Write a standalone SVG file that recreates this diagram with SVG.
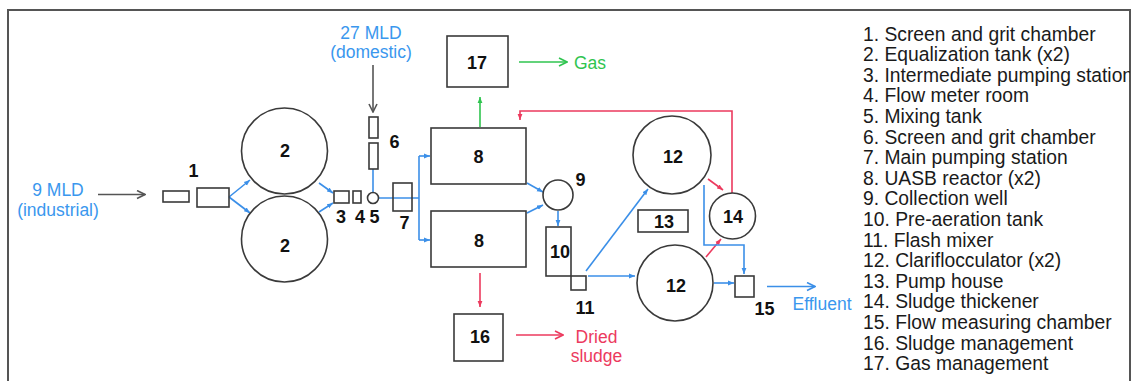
<svg xmlns="http://www.w3.org/2000/svg" width="1135" height="381" viewBox="0 0 1135 381">
<style>
.n{fill:none;stroke:#3a3a3a;stroke-width:1.6}
.lb{font-family:"Liberation Sans",Arial,sans-serif;font-weight:bold;font-size:18px;fill:#111;text-anchor:middle}
.bt{font-family:"Liberation Sans",Arial,sans-serif;font-size:17.5px;fill:#3a97ee;text-anchor:middle}
.gt{font-family:"Liberation Sans",Arial,sans-serif;font-size:17.5px;fill:#2fc44f}
.rt{font-family:"Liberation Sans",Arial,sans-serif;font-size:17.5px;fill:#ec3a5e;text-anchor:middle}
.lg{font-family:"Liberation Sans",Arial,sans-serif;font-size:19.3px;fill:#1a1a1a}
.cb{fill:none;stroke:#3b8fe8;stroke-width:1.6}
.cr{fill:none;stroke:#ec3a5e;stroke-width:1.6}
.cg{fill:none;stroke:#2fc44f;stroke-width:1.6}
.ck{fill:none;stroke:#555;stroke-width:1.6}
</style>
<defs>
<marker id="chk" viewBox="0 0 10 10" refX="9" refY="5" markerWidth="10" markerHeight="10" markerUnits="userSpaceOnUse" orient="auto"><path d="M1,1 L9,5 L1,9" fill="none" stroke="#555" stroke-width="1.6"/></marker>
<marker id="chg" viewBox="0 0 10 10" refX="9" refY="5" markerWidth="10" markerHeight="10" markerUnits="userSpaceOnUse" orient="auto"><path d="M1,1 L9,5 L1,9" fill="none" stroke="#2fc44f" stroke-width="1.6"/></marker>
<marker id="chr" viewBox="0 0 10 10" refX="9" refY="5" markerWidth="10" markerHeight="10" markerUnits="userSpaceOnUse" orient="auto"><path d="M1,1 L9,5 L1,9" fill="none" stroke="#ec3a5e" stroke-width="1.6"/></marker>
<marker id="chb" viewBox="0 0 10 10" refX="9" refY="5" markerWidth="10" markerHeight="10" markerUnits="userSpaceOnUse" orient="auto"><path d="M1,1 L9,5 L1,9" fill="none" stroke="#3b8fe8" stroke-width="1.6"/></marker>
<marker id="tb" viewBox="0 0 10 10" refX="10" refY="5" markerWidth="6" markerHeight="6" markerUnits="userSpaceOnUse" orient="auto"><path d="M0,1 L10,5 L0,9 z" fill="#3b8fe8"/></marker>
<marker id="tr" viewBox="0 0 10 10" refX="10" refY="5" markerWidth="6" markerHeight="6" markerUnits="userSpaceOnUse" orient="auto"><path d="M0,1 L10,5 L0,9 z" fill="#ec3a5e"/></marker>
<marker id="tg" viewBox="0 0 10 10" refX="10" refY="5" markerWidth="6" markerHeight="6" markerUnits="userSpaceOnUse" orient="auto"><path d="M0,1 L10,5 L0,9 z" fill="#2fc44f"/></marker>
<clipPath id="clip"><rect x="0" y="0" width="1130" height="381"/></clipPath>
</defs>
<rect x="0" y="0" width="1135" height="381" fill="#fff"/>
<path d="M8,381 V10 H1130 V381" fill="none" stroke="#555" stroke-width="2"/>

<g id="inputs">
<text class="bt" x="58" y="196">9 MLD</text>
<text class="bt" x="58" y="215.5">(industrial)</text>
<text class="bt" x="371" y="38.5">27 MLD</text>
<text class="bt" x="371" y="57.5">(domestic)</text>
</g>

<g id="connectors">
<path class="ck" d="M98,194.5 H145" marker-end="url(#chk)"/>
<path class="ck" d="M373,65 V112" marker-end="url(#chk)"/>
<path class="cb" d="M229,197 L250,180" marker-end="url(#tb)"/>
<path class="cb" d="M229,197 L250,213" marker-end="url(#tb)"/>
<path class="cb" d="M319,183 L333,193" marker-end="url(#tb)"/>
<path class="cb" d="M319,212 L333,203" marker-end="url(#tb)"/>
<path class="cb" d="M373,169 V192.5"/>
<path class="cb" d="M378.5,198 H419"/>
<path class="cb" d="M419,156 V240"/>
<path class="cb" d="M419,156 H430" marker-end="url(#tb)"/>
<path class="cb" d="M419,240 H430" marker-end="url(#tb)"/>
<path class="cb" d="M527,183 L543,192" marker-end="url(#tb)"/>
<path class="cb" d="M527,213 L543,205" marker-end="url(#tb)"/>
<path class="cb" d="M558,211 V226" marker-end="url(#tb)"/>
<path class="cb" d="M586,271 L648,189" marker-end="url(#tb)"/>
<path class="cb" d="M588,276 H635" marker-end="url(#tb)"/>
<path class="cr" d="M708,179 L723,190" marker-end="url(#tr)"/>
<path class="cr" d="M706,257 L721,239" marker-end="url(#tr)"/>
<path class="cr" d="M732,193 V111 H520 V120" marker-end="url(#tr)"/>
<path class="cb" d="M704,185 V245 H744 V274" marker-end="url(#tb)"/>
<path class="cb" d="M714,283 H734" marker-end="url(#tb)"/>
<path class="cb" d="M767,286.5 H815" marker-end="url(#chb)"/>
<path class="cg" d="M480,127 V97" marker-end="url(#tg)"/>
<path class="cg" d="M519,62 H567" marker-end="url(#chg)"/>
<path class="cr" d="M480,273 V307" marker-end="url(#tr)"/>
<path class="cr" d="M516,335 H563" marker-end="url(#chr)"/>
</g>

<g id="node1"><rect class="n" x="163" y="191" width="26" height="11"/><rect class="n" x="197" y="188" width="32" height="19"/><text class="lb" x="193.5" y="177">1</text></g>
<g id="node2a"><circle class="n" cx="284.5" cy="151" r="43"/><text class="lb" x="285" y="157">2</text></g>
<g id="node2b"><circle class="n" cx="284.5" cy="239" r="43"/><text class="lb" x="285" y="251.5">2</text></g>
<g id="node3"><rect class="n" x="334" y="191" width="15" height="12"/><text class="lb" x="341" y="222.5">3</text></g>
<g id="node4"><rect class="n" x="353" y="191" width="8" height="12"/><text class="lb" x="360" y="222.5">4</text></g>
<g id="node5"><circle class="n" cx="373" cy="198" r="5.5"/><text class="lb" x="374.5" y="222.5">5</text></g>
<g id="node6"><rect class="n" x="369" y="117" width="9" height="21"/><rect class="n" x="369" y="143" width="9" height="26"/><text class="lb" x="394.5" y="148">6</text></g>
<g id="node7"><rect class="n" x="393" y="183" width="19" height="28"/><text class="lb" x="404.5" y="229">7</text></g>
<g id="node8a"><rect class="n" x="431" y="128" width="95" height="56"/><text class="lb" x="478.5" y="163">8</text></g>
<g id="node8b"><rect class="n" x="431" y="211" width="95" height="56"/><text class="lb" x="479" y="246.5">8</text></g>
<g id="node9"><circle class="n" cx="558" cy="195" r="15"/><text class="lb" x="580.5" y="185.5">9</text></g>
<g id="node10"><rect class="n" x="546" y="227" width="25" height="49"/><text class="lb" x="560" y="258">10</text></g>
<g id="node11"><rect class="n" x="571" y="276" width="15" height="14"/><text class="lb" x="585" y="314">11</text></g>
<g id="node12a"><circle class="n" cx="672" cy="155" r="39"/><text class="lb" x="673" y="163">12</text></g>
<g id="node12b"><circle class="n" cx="675" cy="283" r="38"/><text class="lb" x="676" y="291.5">12</text></g>
<g id="node13"><rect class="n" x="638" y="210" width="50" height="22"/><text class="lb" x="664" y="228.3">13</text></g>
<g id="node14"><circle class="n" cx="732.5" cy="216" r="23"/><text class="lb" x="733" y="222.7">14</text></g>
<g id="node15"><rect class="n" x="735" y="276" width="19" height="21"/><text class="lb" x="764.5" y="315">15</text></g>
<g id="node16"><rect class="n" x="454" y="314" width="49" height="47"/><text class="lb" x="480" y="343">16</text></g>
<g id="node17"><rect class="n" x="447" y="36" width="61" height="51"/><text class="lb" x="477" y="69">17</text></g>

<g id="outputs">
<text class="gt" x="574" y="68.5">Gas</text>
<text class="rt" x="596.5" y="343">Dried</text>
<text class="rt" x="596.5" y="362">sludge</text>
<text class="bt" x="822" y="310">Effluent</text>
</g>

<g id="legend" clip-path="url(#clip)">
<text class="lg" x="863" y="40.5">1. Screen and grit chamber</text>
<text class="lg" x="863" y="61.1">2. Equalization tank (x2)</text>
<text class="lg" x="863" y="81.7">3. Intermediate pumping station</text>
<text class="lg" x="863" y="102.3">4. Flow meter room</text>
<text class="lg" x="863" y="122.9">5. Mixing tank</text>
<text class="lg" x="863" y="143.5">6. Screen and grit chamber</text>
<text class="lg" x="863" y="164.1">7. Main pumping station</text>
<text class="lg" x="863" y="184.7">8. UASB reactor (x2)</text>
<text class="lg" x="863" y="205.3">9. Collection well</text>
<text class="lg" x="863" y="225.9">10. Pre-aeration tank</text>
<text class="lg" x="863" y="246.5">11. Flash mixer</text>
<text class="lg" x="863" y="267.1">12. Clariflocculator (x2)</text>
<text class="lg" x="863" y="287.7">13. Pump house</text>
<text class="lg" x="863" y="308.3">14. Sludge thickener</text>
<text class="lg" x="863" y="328.9">15. Flow measuring chamber</text>
<text class="lg" x="863" y="349.5">16. Sludge management</text>
<text class="lg" x="863" y="370.1">17. Gas management</text>
</g>
</svg>
